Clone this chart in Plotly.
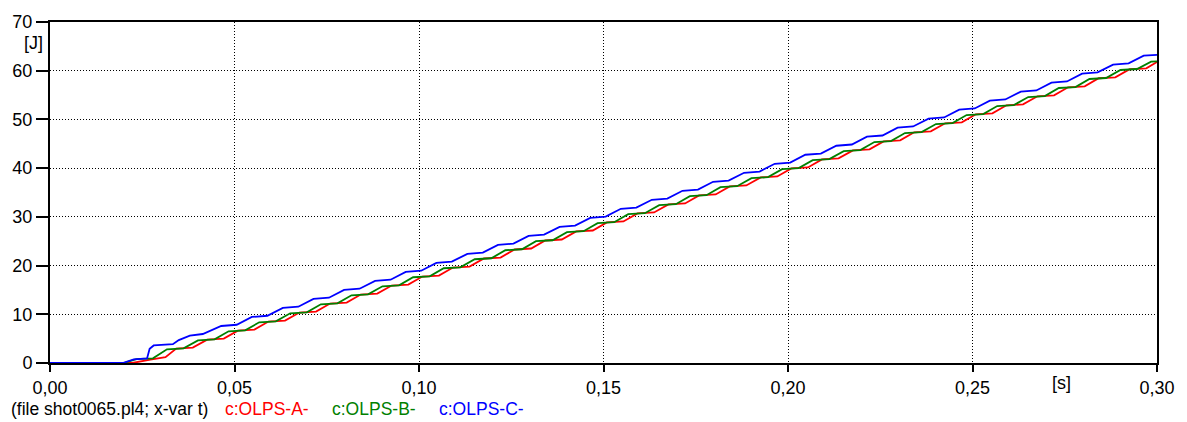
import plotly.graph_objects as go

# Energy absorbed by the three surge arresters (ATP output shot0065.pl4)
series_names = ["c:OLPS-A-", "c:OLPS-B-", "c:OLPS-C-"]
series_colors = ["#ff0000", "#008000", "#0000ff"]

t_a = [0.0, 0.0223, 0.0272, 0.0313,
       0.0342, 0.0387, 0.0426, 0.0471, 0.0509, 0.0554, 0.0592, 0.0637,
       0.0676, 0.0721, 0.0759, 0.0804, 0.0842, 0.0887, 0.0926, 0.0971,
       0.1009, 0.1054, 0.1092, 0.1137, 0.1176, 0.1221, 0.1259, 0.1304,
       0.1342, 0.1387, 0.1426, 0.1471, 0.1509, 0.1554, 0.1592, 0.1637,
       0.1676, 0.1721, 0.1759, 0.1804, 0.1842, 0.1887, 0.1926, 0.1971,
       0.2009, 0.2054, 0.2092, 0.2137, 0.2176, 0.2221, 0.2259, 0.2304,
       0.2342, 0.2387, 0.2426, 0.2471, 0.2509, 0.2554, 0.2592, 0.2637,
       0.2676, 0.2721, 0.2759, 0.2804, 0.2842, 0.2887, 0.2926, 0.2971,
       0.3000]
e_a = [0.0, 0.0, 0.7, 1.2,
       2.95, 3.15, 4.8, 5.0, 6.65, 6.85, 8.5, 8.7,
       10.35, 10.55, 12.2, 12.4, 14.05, 14.25, 15.9, 16.1,
       17.75, 17.95, 19.6, 19.8, 21.45, 21.65, 23.3, 23.5,
       25.15, 25.35, 27.0, 27.2, 28.85, 29.05, 30.7, 30.9,
       32.55, 32.75, 34.4, 34.6, 36.25, 36.45, 38.1, 38.3,
       39.95, 40.15, 41.8, 42.0, 43.65, 43.85, 45.5, 45.7,
       47.35, 47.55, 49.2, 49.4, 51.05, 51.25, 52.9, 53.1,
       54.75, 54.95, 56.6, 56.8, 58.45, 58.65, 60.3, 60.5,
       61.8]

t_b = [0.0, 0.0200, 0.0234, 0.0279,
       0.0317, 0.0362, 0.0401, 0.0446, 0.0484, 0.0529, 0.0567, 0.0612,
       0.0651, 0.0696, 0.0734, 0.0779, 0.0817, 0.0862, 0.0901, 0.0946,
       0.0984, 0.1029, 0.1067, 0.1112, 0.1151, 0.1196, 0.1234, 0.1279,
       0.1317, 0.1362, 0.1401, 0.1446, 0.1484, 0.1529, 0.1567, 0.1612,
       0.1651, 0.1696, 0.1734, 0.1779, 0.1817, 0.1862, 0.1901, 0.1946,
       0.1984, 0.2029, 0.2067, 0.2112, 0.2151, 0.2196, 0.2234, 0.2279,
       0.2317, 0.2362, 0.2401, 0.2446, 0.2484, 0.2529, 0.2567, 0.2612,
       0.2651, 0.2696, 0.2734, 0.2779, 0.2817, 0.2862, 0.2901, 0.2946,
       0.2984, 0.3000]
e_b = [0.0, 0.0, 0.8, 0.95,
       2.8, 3.0, 4.65, 4.85, 6.5, 6.7, 8.35, 8.55,
       10.2, 10.4, 12.05, 12.25, 13.9, 14.1, 15.75, 15.95,
       17.6, 17.8, 19.45, 19.65, 21.3, 21.5, 23.15, 23.35,
       25.0, 25.2, 26.85, 27.05, 28.7, 28.9, 30.55, 30.75,
       32.4, 32.6, 34.25, 34.45, 36.1, 36.3, 37.95, 38.15,
       39.8, 40.0, 41.65, 41.85, 43.5, 43.7, 45.35, 45.55,
       47.2, 47.4, 49.05, 49.25, 50.9, 51.1, 52.75, 52.95,
       54.6, 54.8, 56.45, 56.65, 58.3, 58.5, 60.15, 60.35,
       61.85, 61.9]

t_c = [0.0, 0.0197, 0.0227, 0.0263, 0.0270, 0.0281, 0.0333, 0.0349,
       0.0379, 0.0414,
       0.0464, 0.0506, 0.0547, 0.0589, 0.0631, 0.0673, 0.0714, 0.0756,
       0.0797, 0.0839, 0.0881, 0.0923, 0.0964, 0.1006, 0.1047, 0.1089,
       0.1131, 0.1173, 0.1214, 0.1256, 0.1297, 0.1339, 0.1381, 0.1423,
       0.1464, 0.1506, 0.1547, 0.1589, 0.1631, 0.1673, 0.1714, 0.1756,
       0.1797, 0.1839, 0.1881, 0.1923, 0.1964, 0.2006, 0.2047, 0.2089,
       0.2131, 0.2173, 0.2214, 0.2256, 0.2297, 0.2339, 0.2381, 0.2423,
       0.2464, 0.2506, 0.2547, 0.2589, 0.2631, 0.2673, 0.2714, 0.2756,
       0.2797, 0.2839, 0.2881, 0.2923, 0.2964, 0.3000]
e_c = [0.0, 0.0, 0.75, 0.95, 2.9, 3.6, 3.85, 4.7,
       5.6, 5.95,
       7.6, 7.85, 9.45, 9.7, 11.3, 11.55, 13.15, 13.4,
       15.0, 15.25, 16.85, 17.1, 18.7, 18.95, 20.55, 20.8,
       22.4, 22.65, 24.25, 24.5, 26.1, 26.35, 27.95, 28.2,
       29.8, 30.05, 31.65, 31.9, 33.5, 33.75, 35.35, 35.6,
       37.2, 37.45, 39.05, 39.3, 40.9, 41.15, 42.75, 43.0,
       44.6, 44.85, 46.45, 46.7, 48.3, 48.55, 50.15, 50.4,
       52.0, 52.25, 53.85, 54.1, 55.7, 55.95, 57.55, 57.8,
       59.4, 59.65, 61.25, 61.5, 63.1, 63.25]

x_ticks = [0.0, 0.05, 0.10, 0.15, 0.20, 0.25, 0.30]
y_ticks = [0, 10, 20, 30, 40, 50, 60, 70]

FONT = "Liberation Sans, Arial, Helvetica, sans-serif"
W, H = 1187, 422
L, R, T, B = 49, 28, 16, 59
PW, PH = W - L - R, H - T - B


def px_x(px):
    return (px - L) / PW


def px_y(py):
    return (H - B - py) / PH


fig = go.Figure()
for name, color, tt, ee in zip(series_names, series_colors,
                               [t_a, t_b, t_c], [e_a, e_b, e_c]):
    fig.add_trace(go.Scatter(x=tt, y=ee, mode="lines", name=name,
                             line=dict(color=color, width=1.8),
                             showlegend=False))

axis_common = dict(
    showline=True, linecolor="black", linewidth=2, mirror=True,
    showgrid=True, gridcolor="black", gridwidth=1, griddash="1px,2px",
    zeroline=False, ticks="outside", tickcolor="black", tickwidth=1.5,
    tickfont=dict(family=FONT, size=18, color="black"),
)

fig.update_xaxes(range=[0, 0.30], tickvals=x_ticks, tickformat=".2f",
                 ticklen=7, **axis_common)
fig.update_yaxes(range=[0, 70], tickvals=y_ticks, tickformat="d",
                 ticklen=12, **axis_common)

annotations = [
    dict(text="[J]", x=px_x(32), y=px_y(37), xanchor="center", yanchor="middle",
         font=dict(family=FONT, size=18, color="black")),
    dict(text="[s]", x=px_x(1063), y=px_y(383), xanchor="center", yanchor="middle",
         font=dict(family=FONT, size=18, color="black")),
    dict(text="(file shot0065.pl4; x-var t)", x=px_x(8), y=px_y(410),
         xanchor="left", yanchor="middle",
         font=dict(family=FONT, size=17.5, color="black")),
]
for name, color, left in zip(series_names, series_colors, [222, 330, 437]):
    annotations.append(dict(text=name, x=px_x(left), y=px_y(410),
                            xanchor="left", yanchor="middle",
                            font=dict(family=FONT, size=17.5, color=color)))
for a in annotations:
    a.update(xref="paper", yref="paper", showarrow=False)

fig.update_layout(
    width=W, height=H,
    margin=dict(l=L, r=R, t=T, b=B),
    paper_bgcolor="white", plot_bgcolor="white",
    separators=",.",
    annotations=annotations,
)

fig.write_html("out.html")
